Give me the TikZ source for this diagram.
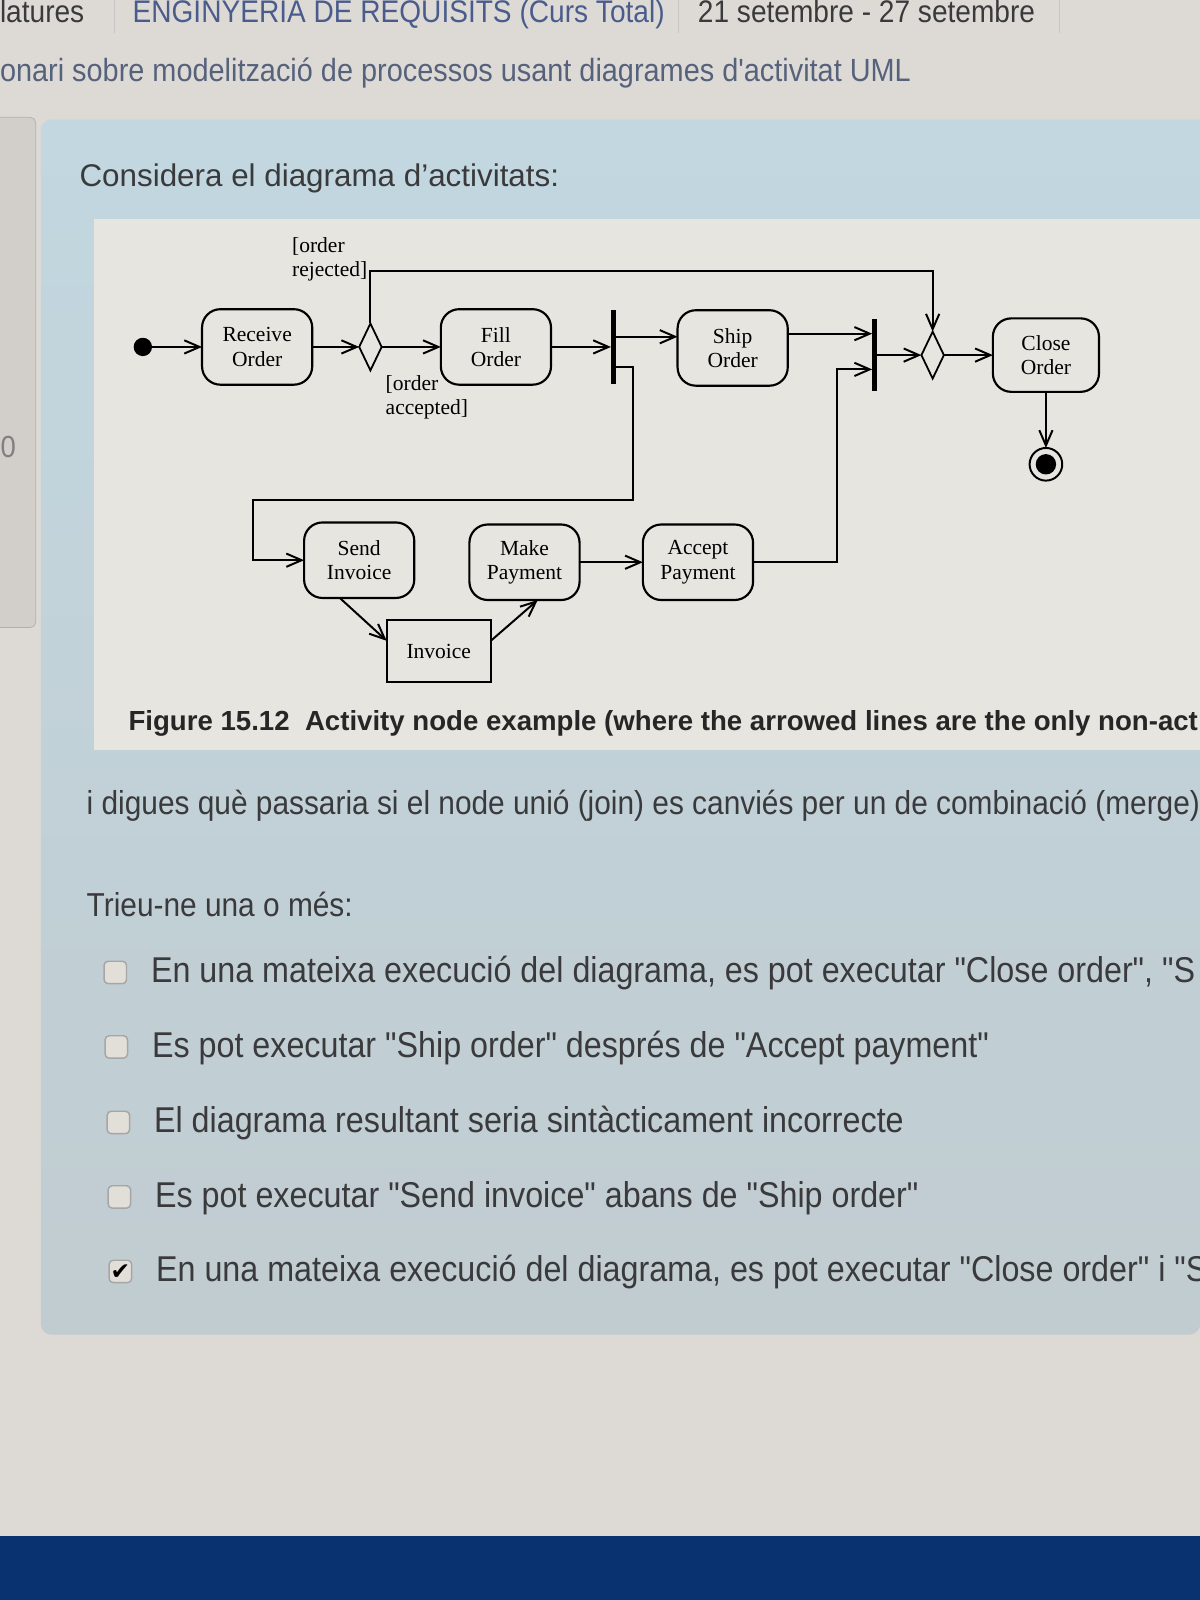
\documentclass[tikz,border=0pt]{standalone}
\usepackage{fontspec}
\setmainfont{Liberation Serif}
\setsansfont{Liberation Sans}
\newfontfamily\pagefont{Liberation Sans}[FakeStretch=0.9]
\newfontfamily\tickfont{DejaVu Sans}
\usepackage{xcolor}
\usepackage{tikz}
\usetikzlibrary{arrows.meta, positioning, shapes.geometric, calc}

\definecolor{pagebg}{RGB}{221,218,214}
\definecolor{sidebg}{RGB}{210,207,203}
\definecolor{paneltop}{RGB}{194,215,224}
\definecolor{panelbot}{RGB}{193,204,208}
\definecolor{figbg}{RGB}{231,229,224}
\definecolor{linkblue}{RGB}{74,92,140}
\definecolor{subgrey}{RGB}{86,98,124}
\definecolor{textgrey}{RGB}{58,58,60}
\definecolor{barblue}{RGB}{8,50,112}
\definecolor{boxgrey}{RGB}{226,222,216}

\newcommand{\diagfont}{\rmfamily\fontsize{12}{13.5}\selectfont}
\newcommand{\headfont}{\pagefont\fontsize{17.4}{20}\selectfont}
\newcommand{\answerfont}{\pagefont\fontsize{20}{24}\selectfont}

\begin{document}
\begin{tikzpicture}[
    x=0.02cm, y=-0.02cm,
    every node/.style={inner sep=0pt, outer sep=0pt},
    action/.style={draw, rounded corners=0.36cm, minimum width=2.16cm, minimum height=1.48cm, align=center, line width=1.2pt, font=\diagfont},
    object/.style={draw, rectangle, minimum width=2.04cm, minimum height=1.2cm, line width=1.2pt, font=\diagfont},
    choice/.style={draw, diamond, minimum width=0.44cm, minimum height=0.92cm, line width=1pt},
    bar/.style={fill=black, rectangle, minimum width=0.09cm, minimum height=1.44cm},
    startdot/.style={fill=black, circle, minimum size=0.36cm},
    enddot/.style={draw, circle, line width=1.1pt, minimum size=0.64cm, path picture={\fill (path picture bounding box.center) circle (0.2cm);}},
    guard/.style={font=\diagfont, align=left},
    flow/.style={-{Straight Barb[length=0.3cm, width=0.26cm]}, line width=1.1pt},
    checkbox/.style={draw=gray!70, fill=boxgrey, rounded corners=0.08cm, minimum size=0.44cm, line width=0.8pt},
    answer/.style={anchor=base west, font=\answerfont, text=textgrey}
]

    % Page
    \useasboundingbox (0,0) rectangle (1176,1568);
    \fill[pagebg] (0,0) rectangle (1176,1568);
    \fill[barblue] (0,1505) rectangle (1176,1568);

    % Breadcrumb and title
    \node[anchor=base west, font=\headfont, text=textgrey] (crumbA) at (0,22) {latures};
    \node[anchor=base west, font=\headfont, text=linkblue] (crumbB) at (130,22) {ENGINYERIA DE REQUISITS (Curs Total)};
    \node[anchor=base west, font=\headfont, text=textgrey] (crumbC) at (684,22) {21 setembre - 27 setembre};
    \foreach \x in {112,665,1038}
        \draw[gray!45, line width=0.6pt] (\x,0) -- (\x,32);
    \node[anchor=base west, font=\pagefont\fontsize{17.9}{20}\selectfont, text=subgrey] (title) at (0,80) {onari sobre modelització de processos usant diagrames d'activitat UML};

    % Side panel
    \draw[sidebg!85!black, fill=sidebg, rounded corners=3pt] (-10,115) rectangle (35,615);
    \node[font=\pagefont\fontsize{17}{20}\selectfont, text=gray] (qnum) at (8,438) {0};

    % Question panel
    \shade[top color=paneltop, bottom color=panelbot, rounded corners=6pt] (1176,117) -- (40,117) -- (40,1308) -- (1176,1308) [sharp corners] -- cycle;
    \node[anchor=base west, font=\sffamily\fontsize{17.5}{20}\selectfont, text=textgrey] (prompt) at (78,183) {Considera el diagrama d'activitats:};
    \fill[figbg] (92,215) rectangle (1176,735);

    % Activity diagram
    \node[startdot] (start) at (140,340) {};
    \node[action] (receive) at (252,340) {Receive\\Order};
    \node[choice] (decide) at (363,340) {};
    \node[action] (fill) at (486,340) {Fill\\Order};
    \node[bar] (fork) at (601,340) {};
    \node[action] (ship) at (718,341) {Ship\\Order};
    \node[bar, minimum height=1.4cm] (join) at (857,348) {};
    \node[choice] (merge) at (914,348) {};
    \node[action, minimum width=2.08cm, minimum height=1.44cm] (close) at (1025,348) {Close\\Order};
    \node[enddot] (final) at (1025,455) {};
    \node[action] (send) at (352,549) {Send\\Invoice};
    \node[action] (make) at (514,551) {Make\\Payment};
    \node[action] (accept) at (684,551) {Accept\\Payment};
    \node[object] (invoice) at (430,638) {Invoice};

    \node[guard, anchor=east] (rejLabel) at (360,254) {[order\\rejected]};
    \node[guard, anchor=north west] (accLabel) at (378,368) {[order\\accepted]};

    \coordinate (rejected) at (640,266);
    \coordinate (forkTop) at ([yshift=0.2cm]fork.east);
    \coordinate (forkLow) at ([yshift=-0.4cm]fork.east);
    \coordinate (turnA) at (620,490);
    \coordinate (turnB) at (248,490);
    \coordinate (shipOut) at ([yshift=0.28cm]ship.east);
    \coordinate (turnC) at (820,362);

    \draw[flow] (start) -- (receive);
    \draw[flow] (receive) -- (decide);
    \draw[flow] (decide) -- (fill);
    \draw[flow] (decide.north) |- (rejected) -| (merge.north);
    \draw[flow] (fill) -- (fork);
    \draw[flow] (forkTop) -- (forkTop -| ship.west);
    \draw[flow] (forkLow) -| (turnA) -- (turnB) |- (send.west);
    \draw[flow] (shipOut) -- (shipOut -| join.west);
    \draw[flow] (accept.east) -| (turnC) -- (turnC -| join.west);
    \draw[flow] (join) -- (merge);
    \draw[flow] (merge) -- (close);
    \draw[flow] (close) -- (final);
    \draw[flow] ([xshift=-0.38cm]send.south) -- ([yshift=0.2cm]invoice.west);
    \draw[flow] ([yshift=0.2cm]invoice.east) -- ([xshift=0.26cm]make.south);
    \draw[flow] (make) -- (accept);

    % Caption and question
    \node[anchor=base west, font=\sffamily\bfseries\fontsize{15.4}{17}\selectfont, text=black!85] (caption) at (126,716) {Figure 15.12\ \ Activity node example (where the arrowed lines are the only non-act};
    \node[anchor=base west, font=\pagefont\fontsize{18.5}{22}\selectfont, text=textgrey] (question) at (85,798) {i digues què passaria si el node unió (join) es canviés per un de combinació (merge)};
    \node[anchor=base west, font=\pagefont\fontsize{18.5}{22}\selectfont, text=textgrey] (choose) at (85,898) {Trieu-ne una o més:};

    % Answers
    \node[checkbox] (boxA) at (113,953) {};
    \node[answer] (ansA) at (148,963) {En una mateixa execució del diagrama, es pot executar "Close order", "S};
    \node[checkbox] (boxB) at (114,1026) {};
    \node[answer] (ansB) at (149,1036) {Es pot executar "Ship order" després de "Accept payment"};
    \node[checkbox] (boxC) at (116,1100) {};
    \node[answer] (ansC) at (151,1110) {El diagrama resultant seria sintàcticament incorrecte};
    \node[checkbox] (boxD) at (117,1173) {};
    \node[answer] (ansD) at (152,1183) {Es pot executar "Send invoice" abans de "Ship order"};
    \node[checkbox] (boxE) at (118,1246) {};
    \node[font=\tickfont\fontsize{13}{13}\selectfont, text=black] (tick) at (118,1247) {✔};
    \node[answer] (ansE) at (153,1256) {En una mateixa execució del diagrama, es pot executar "Close order" i "S};

\end{tikzpicture}
\end{document}
